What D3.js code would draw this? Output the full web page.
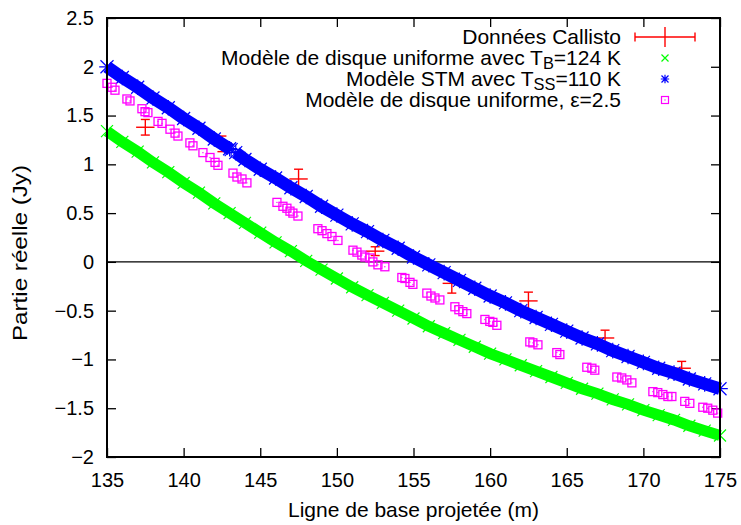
<!DOCTYPE html>
<html>
<head>
<meta charset="utf-8">
<script src="https://cdn.jsdelivr.net/npm/d3@7"></script>
<style>
  body { margin: 0; background: #fff; }
  text { font-family: "Liberation Sans", Arial, sans-serif; }
</style>
</head>
<body>
<div id="chart"></div>
<script>
// Callisto measurements (baseline in m, real part in Jy)
const calX = [137.5, 142.5, 147.5, 152.5, 157.5, 162.5, 167.5, 172.5];
const calY = [1.38, 1.21, 0.85, 0.11, -0.22, -0.40, -0.78, -1.09];
const calYErr = [0.08, 0.08, 0.10, 0.045, 0.10, 0.09, 0.08, 0.07];
const calXErr = [0.6, 0.6, 0.6, 0.6, 0.6, 0.6, 0.6, 0.6];

// uniform disk, TB = 124 K
const greenX = [135,136,137,138,139,140,141,142,143,144,145,146,147,148,149,150,151,152,153,154,155,
    156,157,158,159,160,161,162,163,164,165,166,167,168,169,170,171,172,173,174,175];
const greenY = [1.34,1.23,1.13,1.02,0.92,0.81,0.71,0.60,0.50,0.40,0.30,0.20,0.11,0.01,-0.08,-0.17,
    -0.26,-0.34,-0.42,-0.50,-0.58,-0.66,-0.73,-0.80,-0.87,-0.94,-1.00,-1.06,-1.12,-1.18,-1.24,
    -1.30,-1.35,-1.41,-1.46,-1.52,-1.57,-1.62,-1.68,-1.73,-1.78];

// STM, TSS = 110 K (null = gap in the coverage)
const blueX = [135,136,137,138,139,140,141,142,143,143.1,143.2,143.4,144,145,146,147,148,149,150,151,152,153,154,155,
    156,157,158,159,160,161,162,163,164,165,166,167,168,169,170,171,172,173,174,175];
const blueY = [2.00,1.89,1.79,1.68,1.58,1.47,1.37,1.26,1.16,1.15,null,1.12,1.05,0.95,0.86,0.76,0.67,0.57,0.48,0.39,
    0.31,0.22,0.14,0.05,-0.03,-0.11,-0.19,-0.27,-0.35,-0.42,-0.50,-0.57,-0.64,-0.71,-0.78,-0.84,
    -0.91,-0.97,-1.03,-1.09,-1.14,-1.20,-1.25,-1.30];

// uniform disk, epsilon = 2.5
const magX = [135.0,135.33,135.52,136.3,136.5,137.28,137.48,137.67,138.33,138.59,139.11,139.44,139.63,
    140.41,140.61,141.26,141.72,142.05,142.24,143.22,143.48,143.81,144.13,146.09,146.48,146.74,146.94,
    147.13,147.46,148.76,149.03,149.35,149.68,150.07,151.05,151.31,151.63,151.83,152.16,152.35,152.68,
    153.13,154.24,154.44,154.77,154.96,155.87,156.14,156.4,156.72,157.7,157.96,158.22,158.48,159.66,
    159.98,160.18,160.44,162.59,162.79,163.12,164.35,164.55,166.31,166.64,166.83,168.27,168.59,168.92,
    169.25,170.62,170.94,171.27,171.6,171.86,172.7,173.03,173.88,174.2,174.53,174.85];
const magY = [1.83,1.79,1.76,1.67,1.65,1.57,1.54,1.53,1.44,1.42,1.36,1.32,1.29,1.22,1.19,1.12,1.07,
    1.02,0.99,0.91,0.87,0.85,0.81,0.61,0.57,0.55,0.52,0.50,0.47,0.34,0.32,0.29,0.26,0.22,0.12,0.10,
    0.07,0.05,0.04,0.00,-0.03,-0.05,-0.16,-0.17,-0.21,-0.23,-0.32,-0.35,-0.37,-0.39,-0.46,-0.49,
    -0.51,-0.53,-0.59,-0.61,-0.62,-0.65,-0.82,-0.83,-0.85,-0.93,-0.95,-1.08,-1.09,-1.11,-1.18,-1.19,
    -1.21,-1.24,-1.33,-1.34,-1.36,-1.38,-1.38,-1.43,-1.45,-1.49,-1.50,-1.52,-1.55];

const xTicks = [135, 140, 145, 150, 155, 160, 165, 170, 175];
const yTicks = [-2, -1.5, -1, -0.5, 0, 0.5, 1, 1.5, 2, 2.5];

const width = 741, height = 525;
const margin = { top: 18, right: 21, bottom: 68, left: 107 };
const fsTick = 20, fs = 21;

const svg = d3.select("#chart").append("svg")
    .attr("width", width)
    .attr("height", height);

const x = d3.scaleLinear().domain([135, 175]).range([margin.left, width - margin.right]);
const y = d3.scaleLinear().domain([-2, 2.5]).range([height - margin.bottom, margin.top]);

const pw = width - margin.left - margin.right;
const ph = height - margin.top - margin.bottom;

// axes with inward ticks on all four sides
const fmt = d => (d < 0 ? "\u2212" + Math.abs(d) : "" + d);
svg.append("g")
    .attr("transform", `translate(0,${y(-2)})`)
    .call(d3.axisBottom(x).tickValues(xTicks).tickSize(-9).tickPadding(16).tickFormat(fmt))
    .call(g => g.select(".domain").remove());
svg.append("g")
    .attr("transform", `translate(0,${y(2.5)})`)
    .call(d3.axisTop(x).tickValues(xTicks).tickSize(-9).tickFormat(""))
    .call(g => g.select(".domain").remove());
svg.append("g")
    .attr("transform", `translate(${x(135)},0)`)
    .call(d3.axisLeft(y).tickValues(yTicks).tickSize(-9).tickPadding(13).tickFormat(fmt))
    .call(g => g.select(".domain").remove());
svg.append("g")
    .attr("transform", `translate(${x(175)},0)`)
    .call(d3.axisRight(y).tickValues(yTicks).tickSize(-9).tickFormat(""))
    .call(g => g.select(".domain").remove());

svg.selectAll(".tick line").attr("stroke", "#000").attr("stroke-width", 1.3);
svg.selectAll(".tick text")
    .attr("fill", "#000")
    .style("font-size", fsTick + "px")
    .style("font-family", "'Liberation Sans', Arial, sans-serif");

// zero line
svg.append("line")
    .attr("x1", x(135)).attr("x2", x(175))
    .attr("y1", y(0)).attr("y2", y(0))
    .attr("stroke", "#000")
    .attr("stroke-width", 1.4);

const plot = svg.append("g");

// Callisto error bars
const cal = calX.map((d, i) => ({ x: d, y: calY[i], ey: calYErr[i], ex: calXErr[i] }));
const red = "#ff0000";
cal.forEach(d => {
    const g = plot.append("g").attr("stroke", red).attr("stroke-width", 1.4);
    g.append("line").attr("x1", x(d.x)).attr("x2", x(d.x)).attr("y1", y(d.y - d.ey)).attr("y2", y(d.y + d.ey));
    g.append("line").attr("x1", x(d.x) - 4.5).attr("x2", x(d.x) + 4.5).attr("y1", y(d.y - d.ey)).attr("y2", y(d.y - d.ey));
    g.append("line").attr("x1", x(d.x) - 4.5).attr("x2", x(d.x) + 4.5).attr("y1", y(d.y + d.ey)).attr("y2", y(d.y + d.ey));
    g.append("line").attr("x1", x(d.x - d.ex)).attr("x2", x(d.x + d.ex)).attr("y1", y(d.y)).attr("y2", y(d.y));
});

// model bands
function band(xs, ys, color, w, marker, ms) {
    const pts = xs.map((d, i) => ({ x: d, y: ys[i] }));
    plot.append("path")
        .datum(pts)
        .attr("fill", "none")
        .attr("stroke", color)
        .attr("stroke-width", w)
        .attr("stroke-linecap", "butt")
        .attr("d", d3.line().defined(d => d.y != null).x(d => x(d.x)).y(d => y(d.y)));
    plot.append("g").selectAll("path")
        .data(pts.filter(d => d.y != null))
        .enter().append("path")
        .attr("transform", d => `translate(${x(d.x)},${y(d.y)})`)
        .attr("d", marker(ms))
        .attr("stroke", color)
        .attr("stroke-width", 1.2)
        .attr("fill", "none");
}
const crossX = s => `M${-s},${-s}L${s},${s}M${-s},${s}L${s},${-s}`;
const star = s => `M${-s},${-s}L${s},${s}M${-s},${s}L${s},${-s}M${-s * 1.2},0L${s * 1.2},0M0,${-s * 1.2}L0,${s * 1.2}`;

band(greenX, greenY, "#00ff00", 11, crossX, 6);
band(blueX, blueY, "#0000ff", 12.5, star, 6.5);

// epsilon model squares
const sq = magX.map((d, i) => ({ x: d, y: magY[i] }));
const mag = plot.append("g");
mag.selectAll("rect")
    .data(sq)
    .enter().append("rect")
    .attr("x", d => x(d.x) - 4)
    .attr("y", d => y(d.y) - 4)
    .attr("width", 8).attr("height", 8)
    .attr("fill", "none")
    .attr("stroke", "#ff00ff")
    .attr("stroke-width", 1.3);
mag.selectAll("circle")
    .data(sq)
    .enter().append("circle")
    .attr("cx", d => x(d.x))
    .attr("cy", d => y(d.y))
    .attr("r", 0.7)
    .attr("fill", "#ff00ff");

// frame
svg.append("rect")
    .attr("x", margin.left).attr("y", margin.top)
    .attr("width", pw).attr("height", ph)
    .attr("fill", "none")
    .attr("stroke", "#000")
    .attr("stroke-width", 2);

// axis titles
svg.append("text")
    .attr("x", x(155)).attr("y", 517)
    .attr("text-anchor", "middle")
    .style("font-size", fs + "px")
    .text("Ligne de base projetée (m)");
svg.append("text")
    .attr("transform", `translate(27,253) rotate(-90)`)
    .attr("text-anchor", "middle")
    .attr("textLength", 176)
    .attr("lengthAdjust", "spacingAndGlyphs")
    .style("font-size", fs + "px")
    .text("Partie réelle (Jy)");

// legend
const legend = svg.append("g");
const lx = 621, sx = 665, rowH = 21, ly0 = 37;
const rows = [
    { parts: [["Données Callisto"]] },
    { parts: [["Modèle de disque uniforme avec T"], ["B", "sub"], ["=124 K"]] },
    { parts: [["Modèle STM avec T"], ["SS", "sub"], ["=110 K"]] },
    { parts: [["Modèle de disque uniforme, ε=2.5"]] }
];
rows.forEach((r, i) => {
    const t = legend.append("text")
        .attr("x", lx).attr("y", ly0 + i * rowH + 7)
        .attr("text-anchor", "end")
        .style("font-size", fs + "px");
    r.parts.forEach(p => {
        const ts = t.append("tspan").text(p[0]);
        if (p[1] === "sub") ts.attr("dy", 4).style("font-size", (fs * 0.78) + "px");
        else if (t.selectAll("tspan").size() > 1) ts.attr("dy", -4);
    });
});
const l0 = legend.append("g").attr("stroke", red).attr("stroke-width", 1.4);
l0.append("line").attr("x1", sx - 30).attr("x2", sx + 30).attr("y1", ly0).attr("y2", ly0);
l0.append("line").attr("x1", sx - 30).attr("x2", sx - 30).attr("y1", ly0 - 4.5).attr("y2", ly0 + 4.5);
l0.append("line").attr("x1", sx + 30).attr("x2", sx + 30).attr("y1", ly0 - 4.5).attr("y2", ly0 + 4.5);
l0.append("line").attr("x1", sx).attr("x2", sx).attr("y1", ly0 - 10).attr("y2", ly0 + 10);
legend.append("path").attr("transform", `translate(${sx},${ly0 + rowH})`).attr("d", crossX(3.5))
    .attr("stroke", "#00ff00").attr("stroke-width", 1.2);
legend.append("path").attr("transform", `translate(${sx},${ly0 + 2 * rowH})`).attr("d", star(3.5))
    .attr("stroke", "#0000ff").attr("stroke-width", 1.2);
legend.append("rect").attr("x", sx - 3.5).attr("y", ly0 + 3 * rowH - 3.5).attr("width", 7).attr("height", 7)
    .attr("fill", "none").attr("stroke", "#ff00ff").attr("stroke-width", 1.2);
legend.append("circle").attr("cx", sx).attr("cy", ly0 + 3 * rowH).attr("r", 0.7).attr("fill", "#ff00ff");
</script>
</body>
</html>
